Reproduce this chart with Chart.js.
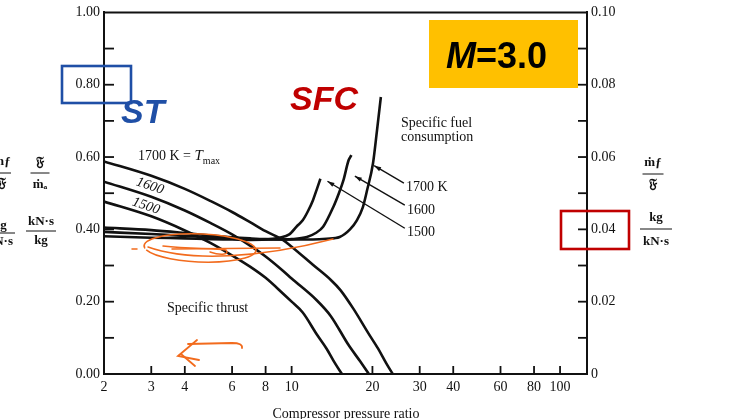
<!DOCTYPE html>
<html><head><meta charset="utf-8">
<script src="https://cdn.jsdelivr.net/npm/chart.js@4/dist/chart.umd.min.js"></script>
<style>html,body{margin:0;padding:0;background:#fff;overflow:hidden}#wrap{width:742px;height:419px;position:relative}</style>
</head><body><div id="wrap"><canvas id="c" width="742" height="419"></canvas></div>
<script>
// ---- data ----
const ratioTicks = [2, 3, 4, 6, 8, 10, 20, 30, 40, 60, 80, 100];
const stTicks = [0, 0.2, 0.4, 0.6, 0.8, 1.0];
const sfcTicks = [0, 0.02, 0.04, 0.06, 0.08, 0.10];

// Specific thrust (kN·s/kg), left axis
const st1700R = [2, 3, 4, 5, 6, 7, 8, 9.3, 10, 12, 14, 15.2, 17, 19.3, 21, 22.5, 23.8];
const st1700V = [0.588, 0.548, 0.512, 0.478, 0.448, 0.42, 0.395, 0.37, 0.352, 0.302, 0.26, 0.232, 0.18, 0.113, 0.07, 0.03, 0];
const st1600R = [2, 3, 4, 5, 6, 7, 8, 9.3, 10, 12.4, 14, 16.3, 18, 19.4];
const st1600V = [0.532, 0.49, 0.452, 0.417, 0.386, 0.355, 0.325, 0.285, 0.264, 0.204, 0.16, 0.08, 0.035, 0];
const st1500R = [2, 3, 4, 5, 6, 7, 8, 9.3, 10, 11, 12.4, 13.5, 14.5, 15.4];
const st1500V = [0.477, 0.436, 0.397, 0.362, 0.328, 0.297, 0.266, 0.222, 0.2, 0.17, 0.11, 0.07, 0.03, 0];

// Specific fuel consumption (kg/kN·s), right axis
const sfc1700R = [2, 3, 4, 5, 6, 7, 8, 10, 12, 13.5, 15.1, 16.5, 17.5, 18.4, 19.1, 20.1, 20.8, 21.5];
const sfc1700V = [0.0405, 0.0398, 0.039, 0.0383, 0.0378, 0.0375, 0.0373, 0.0372, 0.0372, 0.0374, 0.0379, 0.040, 0.0425, 0.046, 0.0508, 0.0583, 0.0674, 0.0766];
const sfc1600R = [2, 3, 4, 5, 6, 7, 8, 9, 10, 11.4, 12.3, 13.1, 14.3, 15, 15.6, 16.3, 16.7];
const sfc1600V = [0.0393, 0.0387, 0.0382, 0.0378, 0.0375, 0.0373, 0.0372, 0.0372, 0.0373, 0.0379, 0.039, 0.0407, 0.0462, 0.050, 0.0536, 0.0591, 0.0605];
const sfc1500R = [2, 3, 4, 5, 6, 7, 8, 9, 9.8, 10.5, 11, 11.5, 12, 12.4, 12.8];
const sfc1500V = [0.0381, 0.0377, 0.0375, 0.0373, 0.0372, 0.0371, 0.0372, 0.0377, 0.0386, 0.041, 0.0425, 0.045, 0.048, 0.051, 0.054];

// leader lines for SFC labels: [label-end ratio, label-end sfc, curve ratio, curve sfc]
const leader1700 = [26.2, 0.0528, 20.3, 0.0576];
const leader1600 = [26.4, 0.0467, 17.2, 0.0547];
const leader1500 = [26.4, 0.0403, 13.6, 0.0533];

const pts = (R, V) => R.map((r, i) => ({x: r, y: V[i]}));
const lineDs = (R, V, axis) => ({
  data: pts(R, V), yAxisID: axis, borderColor: '#111', borderWidth: 2.6,
  pointRadius: 0, fill: false, cubicInterpolationMode: 'monotone'
});

const SERIF = '"Liberation Serif", "DejaVu Serif", serif';
const SANS = '"Liberation Sans", Arial, sans-serif';

const overlay = {
  id: 'overlay',
  afterDraw(chart) {
    const ctx = chart.ctx, a = chart.chartArea;
    const sx = chart.scales.x, sy = chart.scales.y, s2 = chart.scales.y2;
    ctx.save();
    // frame top line
    ctx.strokeStyle = '#111'; ctx.lineWidth = 2;
    ctx.beginPath(); ctx.moveTo(a.left, a.top); ctx.lineTo(a.right, a.top); ctx.stroke();
    // inward ticks
    ctx.lineWidth = 1.8;
    for (let k = 1; k < 10; k++) {
      const y = sy.getPixelForValue(k / 10);
      ctx.beginPath(); ctx.moveTo(a.left, y); ctx.lineTo(a.left + 10, y); ctx.stroke();
    }
    for (let k = 1; k < 10; k++) {
      const y = s2.getPixelForValue(k / 100);
      ctx.beginPath(); ctx.moveTo(a.right, y); ctx.lineTo(a.right - 9, y); ctx.stroke();
    }
    ratioTicks.slice(1).forEach(v => {
      const x = sx.getPixelForValue(v);
      ctx.beginPath(); ctx.moveTo(x, a.bottom); ctx.lineTo(x, a.bottom - 8); ctx.stroke();
    });
    // leader lines with arrowheads
    const leader = L => {
      const x1 = sx.getPixelForValue(L[0]), y1 = s2.getPixelForValue(L[1]);
      const x2 = sx.getPixelForValue(L[2]), y2 = s2.getPixelForValue(L[3]);
      ctx.lineWidth = 1.4; ctx.strokeStyle = '#111'; ctx.fillStyle = '#111';
      ctx.beginPath(); ctx.moveTo(x1, y1); ctx.lineTo(x2, y2); ctx.stroke();
      const ang = Math.atan2(y2 - y1, x2 - x1);
      ctx.beginPath(); ctx.moveTo(x2, y2);
      ctx.lineTo(x2 - 7 * Math.cos(ang) + 2.2 * Math.sin(ang), y2 - 7 * Math.sin(ang) - 2.2 * Math.cos(ang));
      ctx.lineTo(x2 - 7 * Math.cos(ang) - 2.2 * Math.sin(ang), y2 - 7 * Math.sin(ang) + 2.2 * Math.cos(ang));
      ctx.closePath(); ctx.fill();
    };
    leader(leader1700); leader(leader1600); leader(leader1500);

    // texts inside plot
    ctx.fillStyle = '#111'; ctx.textBaseline = 'middle'; ctx.textAlign = 'left';
    ctx.font = '14px ' + SERIF;
    ctx.fillText('1700 K = ', 138, 156);
    let w = ctx.measureText('1700 K = ').width;
    ctx.font = 'italic 15px ' + SERIF; ctx.fillText('T', 138 + w, 156);
    let w2 = ctx.measureText('T').width;
    ctx.font = '10px ' + SERIF; ctx.fillText('max', 138 + w + w2, 161);
    ctx.font = 'italic 14px ' + SERIF;
    ctx.save(); ctx.translate(150, 186); ctx.rotate(0.33); ctx.textAlign = 'center'; ctx.fillText('1600', 0, 0); ctx.restore();
    ctx.save(); ctx.translate(146, 206); ctx.rotate(0.33); ctx.textAlign = 'center'; ctx.fillText('1500', 0, 0); ctx.restore();
    ctx.font = '14px ' + SERIF;
    ctx.fillText('Specific thrust', 167, 308);
    ctx.fillText('Specific fuel', 401, 123);
    ctx.fillText('consumption', 401, 137);
    ctx.fillText('1700 K', 406, 187);
    ctx.fillText('1600', 407, 210);
    ctx.fillText('1500', 407, 232);

    // axis unit fractions
    const frac = (cx, top, bot, lw, ly) => {
      ctx.textAlign = 'center';
      ctx.fillText(top[0], cx + (top[1] || 0), top[2]);
      ctx.fillText(bot[0], cx + (bot[1] || 0), bot[2]);
      ctx.lineWidth = 1; ctx.beginPath(); ctx.moveTo(cx - lw / 2, ly); ctx.lineTo(cx + lw / 2, ly); ctx.stroke();
    };
    ctx.font = 'bold 13px ' + SERIF;
    frac(40, ['\u{1D509}', 0, 163], ['\u1E41\u2090', 0, 185], 19, 173);
    frac(41, ['kN\u00B7s', 0, 222], ['kg', 0, 241], 30, 231);
    frac(2, ['\u1E41\u0192', 0, 162], ['\u{1D509}', 0, 184], 18, 173);
    frac(0, ['kg', 0, 226], ['kN\u00B7s', 0, 242], 30, 233);
    frac(653, ['\u1E41\u0192', 0, 163], ['\u{1D509}', 0, 185], 21, 174);
    frac(656, ['kg', 0, 218], ['kN\u00B7s', 0, 242], 32, 229);

    // x title
    ctx.font = '14px ' + SERIF; ctx.textAlign = 'center';
    ctx.fillText('Compressor pressure ratio', 346, 414);

    // slide annotations
    ctx.fillStyle = '#ffc000'; ctx.fillRect(429, 20, 149, 68);
    ctx.fillStyle = '#000'; ctx.textAlign = 'left'; ctx.textBaseline = 'alphabetic';
    ctx.font = 'bold italic 36px ' + SANS; ctx.fillText('M', 446, 68);
    let wm = ctx.measureText('M').width;
    ctx.font = 'bold 36px ' + SANS; ctx.fillText('=3.0', 446 + wm, 68);

    ctx.strokeStyle = '#1f4fa6'; ctx.lineWidth = 2.6; ctx.strokeRect(62, 66, 69, 37);
    ctx.fillStyle = '#1f4fa6'; ctx.font = 'bold italic 34px ' + SANS; ctx.fillText('ST', 121, 123);
    ctx.fillStyle = '#c00000'; ctx.font = 'bold italic 34px ' + SANS; ctx.fillText('SFC', 290, 110);
    ctx.strokeStyle = '#c00000'; ctx.lineWidth = 2.6; ctx.strokeRect(561, 211, 68, 38);

    // hand-drawn orange marks
    ctx.strokeStyle = '#f26b1d'; ctx.lineWidth = 1.5; ctx.lineCap = 'round';
    ctx.beginPath(); ctx.ellipse(200, 248, 56, 14, 0.04, Math.PI * 0.95, Math.PI * 2.9); ctx.stroke();
    ctx.beginPath(); ctx.moveTo(148, 247);
    ctx.bezierCurveTo(190, 262, 260, 258, 333, 239); ctx.stroke();
    ctx.beginPath(); ctx.moveTo(163, 246); ctx.bezierCurveTo(190, 249, 215, 248, 226, 250);
    ctx.bezierCurveTo(230, 254, 222, 256, 210, 252); ctx.stroke();
    ctx.beginPath(); ctx.moveTo(172, 249); ctx.lineTo(280, 248); ctx.stroke();
    ctx.beginPath(); ctx.moveTo(132, 249); ctx.lineTo(137, 249); ctx.stroke();
    ctx.lineWidth = 1.8;
    ctx.beginPath(); ctx.moveTo(242, 348); ctx.quadraticCurveTo(243, 343, 232, 343); ctx.lineTo(188, 344); ctx.stroke();
    ctx.beginPath(); ctx.moveTo(197, 340); ctx.lineTo(178, 356); ctx.lineTo(199, 360); ctx.stroke();
    ctx.beginPath(); ctx.moveTo(181, 354); ctx.lineTo(195, 366); ctx.stroke();
    ctx.restore();
  }
};

new Chart(document.getElementById('c'), {
  type: 'line',
  data: {
    datasets: [
      lineDs(st1700R, st1700V, 'y'), lineDs(st1600R, st1600V, 'y'), lineDs(st1500R, st1500V, 'y'),
      lineDs(sfc1700R, sfc1700V, 'y2'), lineDs(sfc1600R, sfc1600V, 'y2'), lineDs(sfc1500R, sfc1500V, 'y2')
    ]
  },
  options: {
    responsive: false, animation: false, events: [],
    layout: {padding: {top: 12, left: 0, right: 0, bottom: 0}},
    plugins: {legend: {display: false}, tooltip: {enabled: false}},
    scales: {
      x: {
        type: 'logarithmic', min: 2, max: 126, position: 'bottom',
        afterBuildTicks: s => { s.ticks = ratioTicks.map(v => ({value: v})); },
        afterFit: s => { s.height = 45; },
        ticks: {autoSkip: false, maxRotation: 0, padding: 5, color: '#111',
          font: {family: SERIF, size: 14}, callback: v => String(v)},
        grid: {display: false, drawTicks: false},
        border: {display: true, color: '#111', width: 2}
      },
      y: {
        type: 'linear', min: 0, max: 1, position: 'left',
        afterBuildTicks: s => { s.ticks = stTicks.map(v => ({value: v})); },
        afterFit: s => { s.width = 104; },
        ticks: {padding: 4, color: '#111', font: {family: SERIF, size: 14}, callback: v => v.toFixed(2)},
        grid: {display: false, drawTicks: false},
        border: {display: true, color: '#111', width: 2}
      },
      y2: {
        type: 'linear', min: 0, max: 0.1, position: 'right',
        afterBuildTicks: s => { s.ticks = sfcTicks.map(v => ({value: v})); },
        afterFit: s => { s.width = 155; },
        ticks: {padding: 4, color: '#111', font: {family: SERIF, size: 14},
          callback: v => v === 0 ? '0' : v.toFixed(2)},
        grid: {display: false, drawTicks: false},
        border: {display: true, color: '#111', width: 2}
      }
    }
  },
  plugins: [overlay]
});
</script></body></html>
